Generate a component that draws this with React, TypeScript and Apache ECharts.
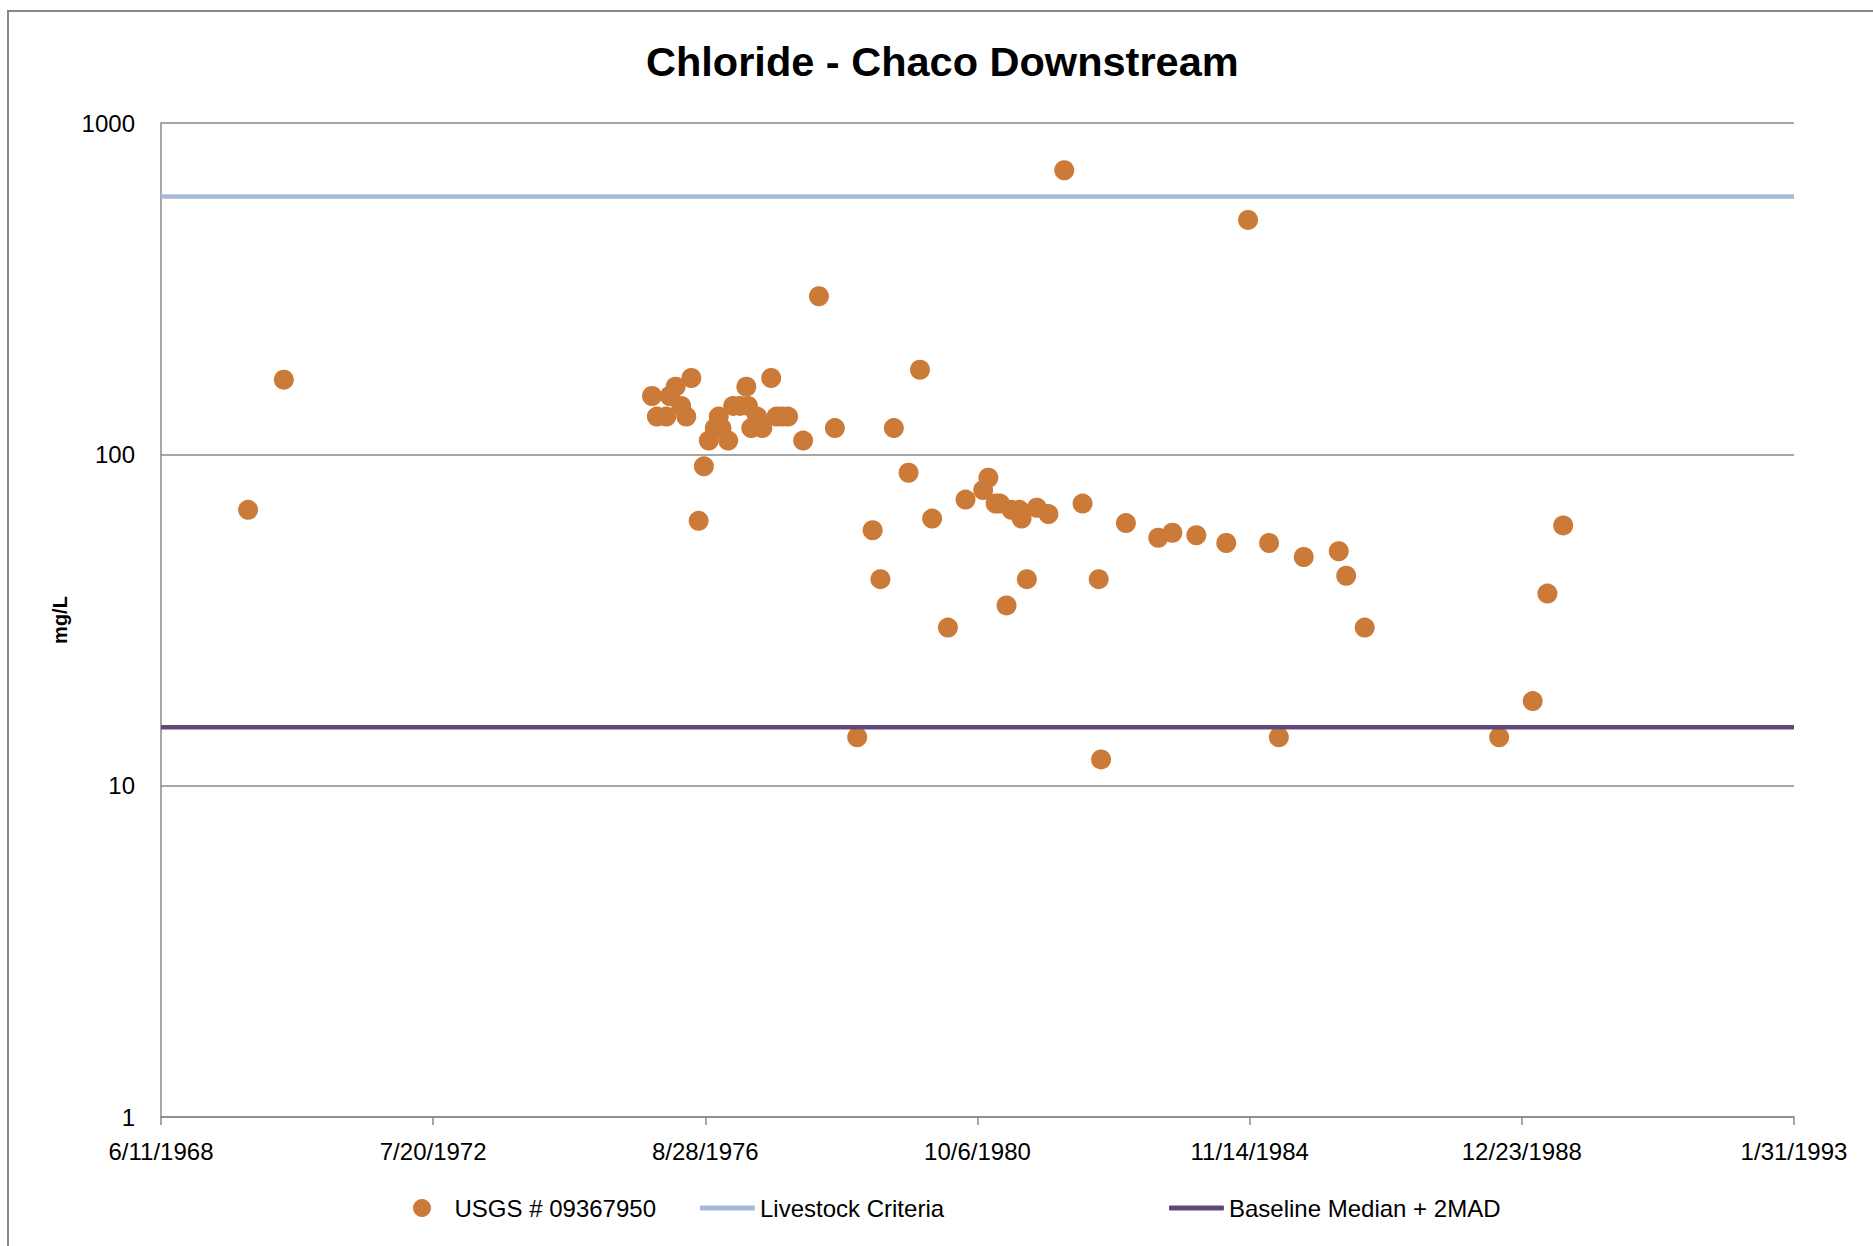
import React, { useEffect, useRef } from "react";
import * as echarts from "echarts";

// ---------- data ----------
const sampleDates: string[] = [
  "1969-10-04", "1970-04-19", "1975-11-08", "1975-12-05", "1976-01-26", "1976-02-14",
  "1976-03-17", "1976-04-17", "1976-05-15", "1976-06-12", "1976-07-22", "1976-08-20",
  "1976-09-16", "1976-10-19", "1976-11-10", "1976-11-25", "1977-01-01", "1977-01-28",
  "1977-03-08", "1977-04-11", "1977-04-20", "1977-05-08", "1977-06-09", "1977-07-08",
  "1977-08-26", "1977-09-24", "1977-10-25", "1977-11-27", "1978-02-18", "1978-05-16",
  "1978-08-12", "1978-12-13", "1979-03-08", "1979-04-20", "1979-07-03", "1979-09-22",
  "1979-11-24", "1980-01-30", "1980-04-26", "1980-08-01", "1980-11-06", "1980-12-05",
  "1981-01-14", "1981-02-07", "1981-03-15", "1981-04-11", "1981-05-24", "1981-06-06",
  "1981-07-05", "1981-08-29", "1981-11-01", "1982-01-27", "1982-05-08", "1982-08-05",
  "1982-08-18", "1983-01-02", "1983-06-29", "1983-09-15", "1984-01-25", "1984-07-08",
  "1984-11-05", "1985-03-01", "1985-04-24", "1985-09-08", "1986-03-20", "1986-04-30",
  "1986-08-10", "1988-08-20", "1989-02-21", "1989-05-13", "1989-08-08",
];

const chlorideValues: number[] = [
  68, 168, 150, 130, 130, 150,
  160, 140, 130, 170, 63, 92,
  110, 120, 130, 120, 110, 140,
  140, 160, 140, 120, 130, 120,
  170, 130, 130, 130, 110, 300,
  120, 14, 59, 42, 120, 88,
  180, 64, 30, 73, 78, 85,
  71, 71, 35, 68, 68, 64,
  42, 69, 66, 720, 71, 42,
  12, 62, 56, 58, 57, 54,
  510, 54, 14, 49, 51, 43,
  30, 14, 18, 38, 61,
];

const livestockCriteria = 600;
const baselineMedian2MAD = 15;

const axisStartDate = "1968-06-11";
const axisEndDate = "1993-01-31";
const axisStepDays = 1500;
const yTicks = [1, 10, 100, 1000];

const seriesNames = ["USGS # 09367950", "Livestock Criteria", "Baseline Median + 2MAD"];
const titleText = "Chloride - Chaco Downstream";
const yAxisTitle = "mg/L";

// ---------- helpers ----------
const parseUTC = (s: string) => {
  const [y, m, d] = s.split("-").map(Number);
  return Date.UTC(y, m - 1, d);
};
const BASE = parseUTC(axisStartDate);
const DAY = 86400000;
const toDays = (s: string) => Math.round((parseUTC(s) - BASE) / DAY);
const fmtDate = (v: number) => {
  const dt = new Date(BASE + v * DAY);
  return `${dt.getUTCMonth() + 1}/${dt.getUTCDate()}/${dt.getUTCFullYear()}`;
};

const FONT = "'Liberation Sans', Arial, sans-serif";
const GRID_GRAY = "#8a8a8a";
const DOT = "#CC7A37";
const LIVESTOCK = "#A5B9D9";
const BASELINE = "#604A7B";

export default function App() {
  const ref = useRef<HTMLDivElement>(null);

  useEffect(() => {
    if (!ref.current) return;
    const chart = echarts.init(ref.current, undefined, { renderer: "svg" });
    const xMax = toDays(axisEndDate);
    const scatterData = sampleDates.map((d, i) => [toDays(d), chlorideValues[i]]);

    const legendBase = {
      top: 1191,
      selectedMode: false,
      itemWidth: 55,
      textStyle: { fontFamily: FONT, fontSize: 24, color: "#000" },
    };

    chart.setOption({
      animation: false,
      backgroundColor: "#ffffff",
      title: {
        text: titleText,
        left: 646,
        top: 40,
        padding: 0,
        textStyle: { fontFamily: FONT, fontSize: 41.5, fontWeight: "bold", color: "#000" },
      },
      graphic: [
        {
          type: "rect",
          shape: { x: 8, y: 11, width: 2000, height: 2000 },
          style: { fill: "none", stroke: "#878787", lineWidth: 2 },
          silent: true,
          z: -10,
        },
        {
          type: "text",
          x: 60,
          y: 620,
          rotation: Math.PI / 2,
          style: {
            text: yAxisTitle,
            fontFamily: FONT,
            fontSize: 20,
            fontWeight: "bold",
            fill: "#000",
            textAlign: "center",
            textVerticalAlign: "middle",
          },
        },
      ],
      legend: [
        { ...legendBase, left: 408, itemHeight: 18, icon: "circle", data: [seriesNames[0]] },
        { ...legendBase, left: 695, itemHeight: 5, icon: "roundRect", data: [seriesNames[1]] },
        { ...legendBase, left: 1164, itemHeight: 5, icon: "roundRect", data: [seriesNames[2]] },
      ],
      grid: { left: 161, top: 123, width: 1633, height: 994, containLabel: false },
      xAxis: {
        type: "value",
        min: 0,
        max: xMax,
        interval: axisStepDays,
        axisLine: { show: true, lineStyle: { color: GRID_GRAY, width: 1.5 } },
        axisTick: { show: true, length: 8, lineStyle: { color: GRID_GRAY, width: 1.5 } },
        splitLine: { show: false },
        axisLabel: {
          formatter: (v: number) => fmtDate(v),
          fontFamily: FONT,
          fontSize: 24,
          color: "#000",
          margin: 22,
        },
      },
      yAxis: {
        type: "log",
        logBase: 10,
        min: yTicks[0],
        max: yTicks[yTicks.length - 1],
        axisLine: { show: true, lineStyle: { color: GRID_GRAY, width: 1.5 } },
        axisTick: { show: false },
        splitLine: { show: true, lineStyle: { color: GRID_GRAY, width: 1.5 } },
        axisLabel: {
          formatter: (v: number) => String(Math.round(v)),
          fontFamily: FONT,
          fontSize: 24,
          color: "#000",
          margin: 26,
        },
      },
      series: [
        {
          name: seriesNames[0],
          type: "scatter",
          data: scatterData,
          symbol: "circle",
          symbolSize: 20,
          itemStyle: { color: DOT, opacity: 1 },
          z: 2,
        },
        {
          name: seriesNames[1],
          type: "line",
          data: [[0, livestockCriteria], [xMax, livestockCriteria]],
          symbol: "none",
          lineStyle: { color: LIVESTOCK, width: 4.5 },
          itemStyle: { color: LIVESTOCK },
          z: 3,
        },
        {
          name: seriesNames[2],
          type: "line",
          data: [[0, baselineMedian2MAD], [xMax, baselineMedian2MAD]],
          symbol: "none",
          lineStyle: { color: BASELINE, width: 4.5 },
          itemStyle: { color: BASELINE },
          z: 3,
        },
      ],
    });

    return () => chart.dispose();
  }, []);

  return (
    <div
      ref={ref}
      style={{ position: "absolute", left: 0, top: 0, width: 1873, height: 1246 }}
    />
  );
}
